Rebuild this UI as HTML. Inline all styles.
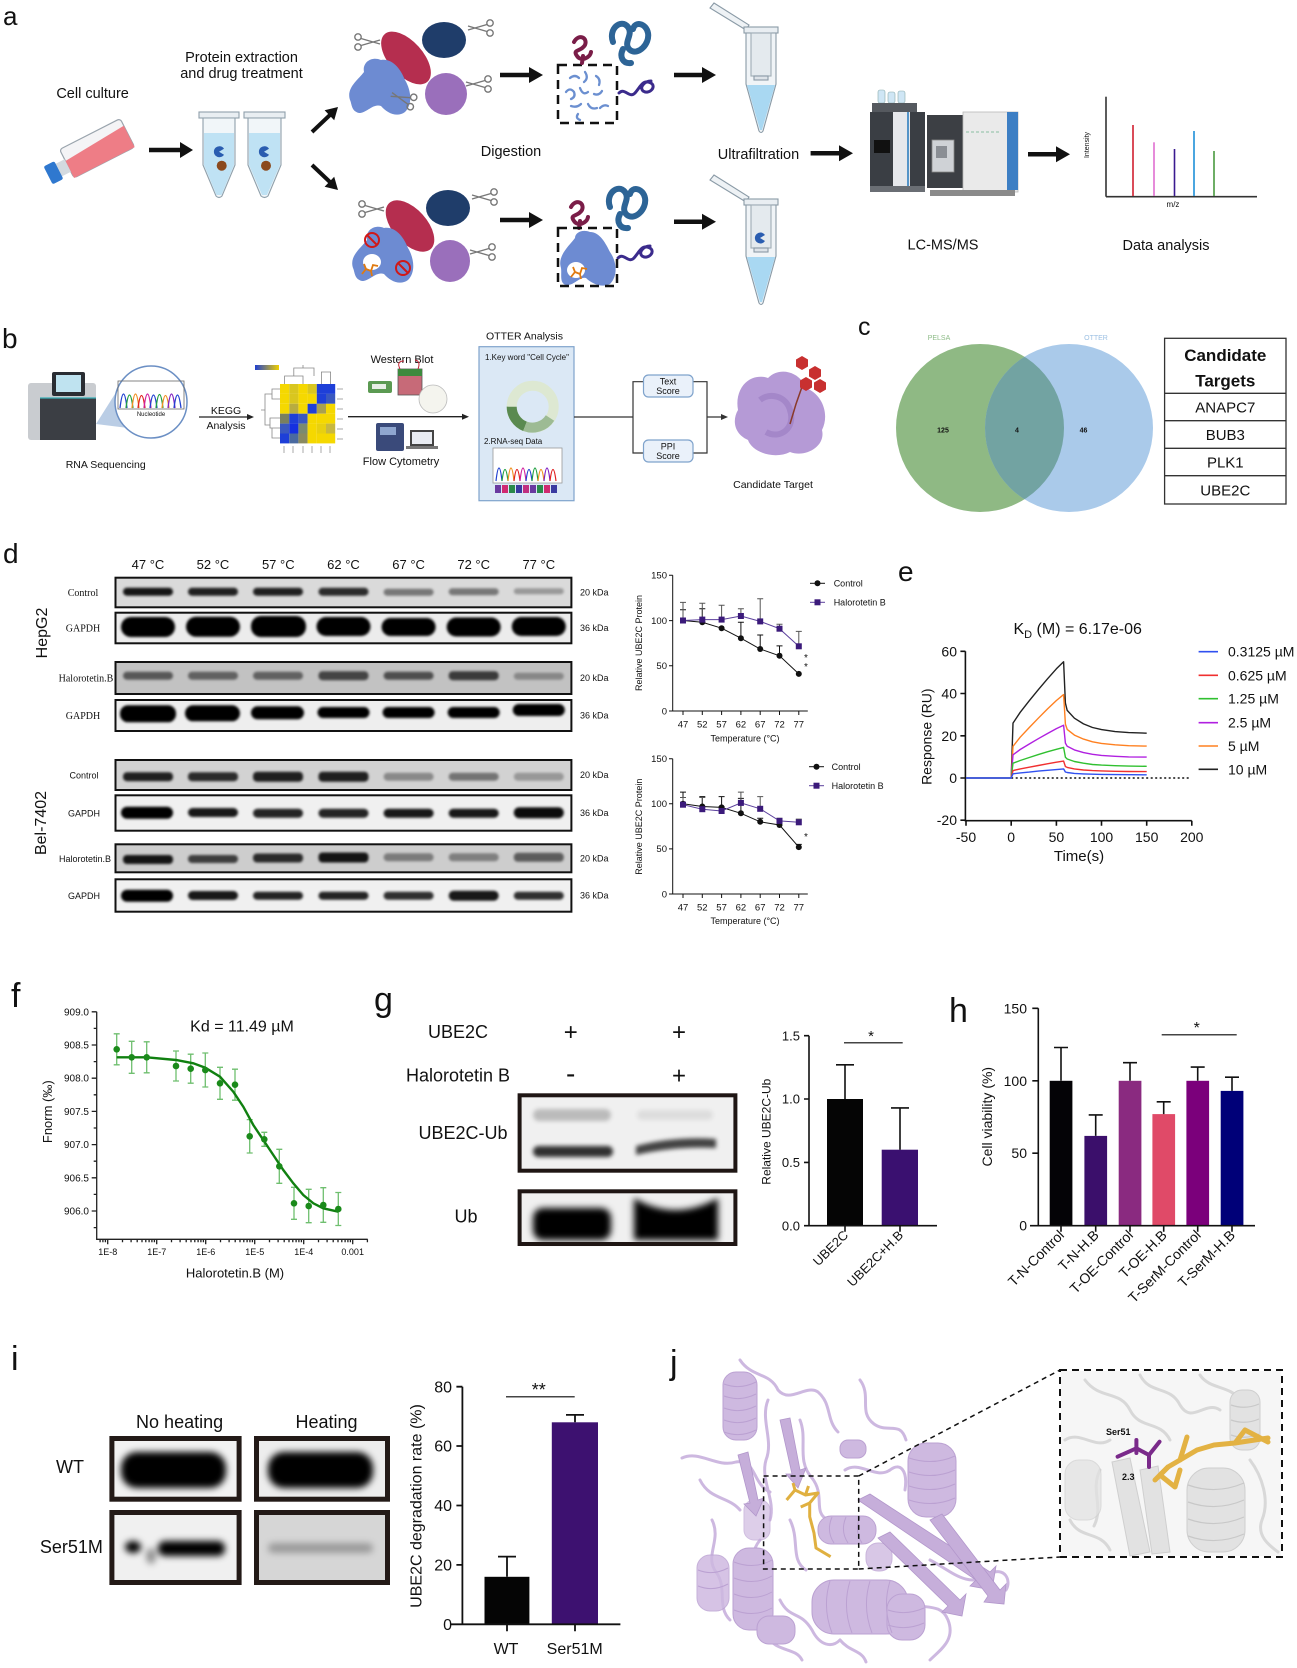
<!DOCTYPE html>
<html><head><meta charset="utf-8"><style>
html,body{margin:0;padding:0;background:#fff}
svg{display:block}
text{font-family:"Liberation Sans",Arial,sans-serif;fill:#111}
.s{font-family:"Liberation Serif","Times New Roman",serif}
</style></head><body>
<svg width="1297" height="1668" viewBox="0 0 1297 1668" xmlns="http://www.w3.org/2000/svg">
<defs>
<filter id="b1" x="-30%" y="-100%" width="160%" height="300%"><feGaussianBlur stdDeviation="1.3"/></filter>
<filter id="b2" x="-30%" y="-100%" width="160%" height="300%"><feGaussianBlur stdDeviation="2.2"/></filter>
<filter id="b4" x="-30%" y="-100%" width="160%" height="300%"><feGaussianBlur stdDeviation="3.5"/></filter>
<g id="sc" fill="none" stroke="#777" stroke-width="1.4"><circle cx="0" cy="-5" r="3.2"/><circle cx="0" cy="5" r="3.2"/><path d="M3,-3.5 L22,2 M3,3.5 L22,-2"/></g>
<clipPath id="gc"><circle cx="980" cy="428" r="84"/></clipPath>
<linearGradient id="hk"><stop offset="0" stop-color="#2040d0"/><stop offset="1" stop-color="#f0d000"/></linearGradient>
</defs>

<!-- ================= PANEL A ================= -->
<text x="3" y="25" font-size="26">a</text>
<text x="92.6" y="98" font-size="14.5" text-anchor="middle">Cell culture</text>
<text x="241.5" y="62" font-size="14.5" text-anchor="middle">Protein extraction</text>
<text x="241.5" y="78" font-size="14.5" text-anchor="middle">and drug treatment</text>
<text x="511" y="156" font-size="14.5" text-anchor="middle">Digestion</text>
<text x="758.5" y="159" font-size="14.5" text-anchor="middle">Ultrafiltration</text>
<text x="943" y="249.5" font-size="14.5" text-anchor="middle">LC-MS/MS</text>
<text x="1166" y="250" font-size="14.5" text-anchor="middle">Data analysis</text>

<!-- flask -->
<g transform="translate(94,151) rotate(-27)">
<rect x="-30" y="-17" width="68" height="32" rx="3" fill="#f4f4f6" stroke="#9aa4ad" stroke-width="1.2"/>
<path d="M-30,-4 L38,-9 L38,15 L-30,15 Z" fill="#ee7d86"/>
<rect x="-41" y="-6" width="11" height="14" fill="#d3dae0"/>
<rect x="-52" y="-9" width="12" height="20" rx="2" fill="#2f78cf"/>
</g>
<!-- arrows -->
<g fill="#111" stroke="#111">
<line x1="149" y1="150" x2="182" y2="150" stroke-width="4.5"/><polygon points="180,142 193,150 180,158" stroke="none"/>
<line x1="312" y1="132" x2="331" y2="114" stroke-width="4"/><polygon points="334.2,120.3 324.6,110.3 338,107" stroke="none"/>
<line x1="312" y1="165" x2="331" y2="183" stroke-width="4"/><polygon points="324.6,186.7 334.2,176.7 338,190" stroke="none"/>
<line x1="500" y1="75" x2="531" y2="75" stroke-width="4.5"/><polygon points="529,67 543,75 529,83" stroke="none"/>
<line x1="500" y1="220" x2="531" y2="220" stroke-width="4.5"/><polygon points="529,212 543,220 529,228" stroke="none"/>
<line x1="674" y1="75" x2="704" y2="75" stroke-width="4.5"/><polygon points="702,67 716,75 702,83" stroke="none"/>
<line x1="674" y1="221.7" x2="704" y2="221.7" stroke-width="4.5"/><polygon points="702,213.7 716,221.7 702,229.7" stroke="none"/>
<line x1="810.6" y1="153.3" x2="841" y2="153.3" stroke-width="4.5"/><polygon points="839,145.3 853,153.3 839,161.3" stroke="none"/>
<line x1="1028" y1="154.3" x2="1058" y2="154.3" stroke-width="4.5"/><polygon points="1056,146.3 1070,154.3 1056,162.3" stroke="none"/>
</g>
<!-- tubes -->
<g stroke="#8fa0ab" stroke-width="1.1">
<rect x="199" y="112" width="40" height="6" fill="#e9eef2"/>
<path d="M203,118 L203,165 L216,196 Q219,199 222,196 L235,165 L235,118 Z" fill="#f1f6f9"/>
<path d="M204,133 L234,133 L234,165 L221.5,195 L216.5,195 L204,165 Z" fill="#bfe2f4" stroke="none"/>
<rect x="244" y="112" width="41" height="6" fill="#e9eef2"/>
<path d="M248,118 L248,165 L261,196 Q264.5,199 268,196 L281,165 L281,118 Z" fill="#f1f6f9"/>
<path d="M249,133 L280,133 L280,165 L267,195 L262,195 L249,165 Z" fill="#bfe2f4" stroke="none"/>
</g>
<path d="M219,151.7 m5,-3 a5.5,5.5 0 1 0 0,6 l-5,-3 z" fill="#2a5db0"/>
<circle cx="221.7" cy="165.7" r="5" fill="#8b4a1e"/>
<path d="M264,151.7 m5,-3 a5.5,5.5 0 1 0 0,6 l-5,-3 z" fill="#2a5db0"/>
<circle cx="266" cy="165.7" r="5" fill="#8b4a1e"/>

<!-- proteins top -->
<ellipse cx="406" cy="58" rx="32" ry="17" transform="rotate(48 406 58)" fill="#b52e4f"/>
<ellipse cx="444" cy="40" rx="22" ry="18" fill="#1f3d6a"/>
<path d="M350,100 C346,88 358,80 364,72 C362,62 372,56 381,60 C393,58 401,70 405,80 C411,90 413,104 405,112 C397,118 387,113 381,106 C373,103 367,113 359,113 C351,111 352,104 350,100 Z" fill="#6d8bd2"/>
<ellipse cx="446" cy="94" rx="21" ry="21" fill="#9a6fbb"/>
<use href="#sc" transform="translate(358,42)"/>
<use href="#sc" transform="translate(490,28) scale(-1,1)"/>
<use href="#sc" transform="translate(488,84) scale(-1,1)"/>
<use href="#sc" transform="translate(412,102) scale(-1,1) rotate(-20)"/>
<!-- proteins bottom -->
<ellipse cx="410" cy="226" rx="31" ry="17" transform="rotate(48 410 226)" fill="#b52e4f"/>
<ellipse cx="448" cy="208" rx="22" ry="18" fill="#1f3d6a"/>
<path d="M353,268 C349,256 361,248 367,240 C365,230 375,224 384,228 C396,226 404,238 408,248 C414,258 416,272 408,280 C400,286 390,281 384,274 C376,271 370,281 362,281 C354,279 355,272 353,268 Z" fill="#6d8bd2"/>
<ellipse cx="372" cy="262" rx="9" ry="8" fill="#fff"/>
<ellipse cx="450" cy="261" rx="20" ry="21" fill="#9a6fbb"/>
<use href="#sc" transform="translate(362,209)"/>
<use href="#sc" transform="translate(494,197) scale(-1,1)"/>
<use href="#sc" transform="translate(492,252) scale(-1,1)"/>
<g fill="none" stroke="#d01818" stroke-width="2"><circle cx="372" cy="240" r="7"/><line x1="367" y1="235" x2="377" y2="245"/><circle cx="403" cy="268" r="7"/><line x1="398" y1="263" x2="408" y2="273"/></g>
<path d="M362,274 l4,-5 l5,2 l2,-6 l5,1 M366,269 l-2,-5 M371,271 l1,5" fill="none" stroke="#e07a10" stroke-width="1.8"/>

<!-- digestion -->
<rect x="558" y="65" width="59" height="58" fill="none" stroke="#111" stroke-width="2.5" stroke-dasharray="9 6"/>
<g fill="none" stroke="#6b8fd0" stroke-width="2.3" stroke-linecap="round">
<path d="M570,78 q5,-4 9,0"/><path d="M585,72 q4,6 -1,10"/><path d="M596,76 q5,3 3,9"/><path d="M566,92 q4,-5 8,0 q2,5 -3,7"/><path d="M580,88 q3,8 8,4"/><path d="M594,94 q5,2 8,-3"/><path d="M571,106 q6,2 10,-2"/><path d="M588,104 q3,6 9,4"/><path d="M578,114 q-3,4 2,6"/><path d="M600,108 q4,-4 8,-2"/>
</g>
<g fill="none" stroke-linecap="round" stroke-linejoin="round">
<path d="M574,42 c5,-9 14,-4 11,3 c-4,7 -13,4 -8,11 c4,6 13,2 14,-4 M583,56 l-1,7" stroke="#7a1d48" stroke-width="4"/>
<path d="M613,42 c-5,-13 8,-24 15,-15 c6,8 -6,16 2,23 c8,6 20,-6 18,-17 c-2,-10 -13,-12 -15,-4 M623,49 c-4,8 0,15 8,14" stroke="#2d6496" stroke-width="6"/>
<path d="M619,93 c6,-6 10,6 16,0 c6,-7 8,-14 16,-10 c6,4 -2,12 -8,8 c-4,-4 2,-10 8,-10" stroke="#3b2b8c" stroke-width="3"/>
<g transform="translate(-3,165)">
<path d="M574,42 c5,-9 14,-4 11,3 c-4,7 -13,4 -8,11 c4,6 13,2 14,-4 M583,56 l-1,7" stroke="#7a1d48" stroke-width="4"/>
<path d="M613,42 c-5,-13 8,-24 15,-15 c6,8 -6,16 2,23 c8,6 20,-6 18,-17 c-2,-10 -13,-12 -15,-4 M623,49 c-4,8 0,15 8,14" stroke="#2d6496" stroke-width="6"/>
<path d="M621,93 c6,-6 10,6 16,0 c6,-7 8,-14 16,-10 c6,4 -2,12 -8,8 c-4,-4 2,-10 8,-10" stroke="#3b2b8c" stroke-width="3"/>
</g>
</g>
<path d="M561,268 C557,256 569,246 575,238 C575,232 583,229 590,232 C600,232 606,244 610,252 C617,262 618,276 610,284 C602,288 592,284 586,278 C580,276 574,286 566,285 C559,283 562,274 561,268 Z" fill="#6d8bd2"/>
<ellipse cx="576" cy="270" rx="9" ry="8" fill="#fff"/>
<rect x="558" y="228" width="59" height="58" fill="none" stroke="#111" stroke-width="2.5" stroke-dasharray="9 6"/>
<path d="M571,277 l4,-5 l5,2 l2,-6 l5,1 M575,272 l-2,-5 M580,274 l1,5" fill="none" stroke="#e07a10" stroke-width="1.8"/>

<!-- filter tubes -->
<g id="ft" stroke="#8a9aa6" stroke-width="1.1">
<path d="M746,30 L710,8 L714,3 L749,25 Z" fill="#eef2f5"/>
<rect x="744" y="27" width="34" height="6" fill="#e9eef2"/>
<path d="M746,33 L746,84 L759,131 Q761,134 763,131 L776,84 L776,33 Z" fill="#f0f4f7"/>
<rect x="751" y="33" width="20" height="43" fill="#e4eaee" stroke="#a0adb6"/>
<rect x="754" y="76" width="14" height="4" fill="#dde3e8"/>
<path d="M747,85 L775,85 L762,130 L760,130 Z" fill="#a9d8f2" stroke="none"/>
</g>
<use href="#ft" transform="translate(0,172)"/>
<path d="M760,238 m5,-3 a5.5,5.5 0 1 0 0,6 l-5,-3 z" fill="#2a5db0"/>

<!-- LC-MS -->
<g>
<rect x="878" y="90" width="7" height="13" rx="2" fill="#cfe6f5" stroke="#8aa" stroke-width=".6"/>
<rect x="888" y="92" width="7" height="11" rx="2" fill="#cfe6f5" stroke="#8aa" stroke-width=".6"/>
<rect x="898" y="91" width="7" height="12" rx="2" fill="#cfe6f5" stroke="#8aa" stroke-width=".6"/>
<rect x="872" y="103" width="45" height="9" fill="#55595f"/>
<rect x="870" y="112" width="55" height="78" fill="#3a3e44"/>
<rect x="893" y="112" width="17" height="78" fill="#e6e8ec"/>
<line x1="908" y1="112" x2="908" y2="190" stroke="#2f7fc0" stroke-width="1.6"/>
<rect x="874" y="140" width="16" height="13" fill="#111"/>
<rect x="870" y="186" width="55" height="6" fill="#6a6e74"/>
<rect x="927" y="115" width="36" height="73" fill="#3c3f44"/>
<rect x="932" y="140" width="22" height="32" fill="#cfd2d6" stroke="#888" stroke-width=".8"/>
<rect x="936" y="146" width="11" height="12" fill="#8a8e94"/>
<rect x="963" y="112" width="55" height="80" fill="#eaeaea" stroke="#b9b9b9" stroke-width=".8"/>
<rect x="1007" y="112" width="11" height="78" fill="#3d7fc4"/>
<line x1="966" y1="132" x2="1000" y2="132" stroke="#6cb08a" stroke-width=".8" stroke-dasharray="3 2"/>
<rect x="930" y="190" width="85" height="6" fill="#8a8a8a"/>
</g>
<!-- spectrum -->
<g stroke-width="1.6">
<line x1="1106" y1="96.7" x2="1106" y2="196.7" stroke="#333"/>
<line x1="1106" y1="196.7" x2="1257" y2="196.7" stroke="#333"/>
<line x1="1133" y1="125" x2="1133" y2="196" stroke="#d02030"/>
<line x1="1154" y1="142.3" x2="1154" y2="196" stroke="#e070d0"/>
<line x1="1174.5" y1="149" x2="1174.5" y2="196" stroke="#3a1a90"/>
<line x1="1194" y1="131" x2="1194" y2="196" stroke="#1e90d8"/>
<line x1="1214" y1="151" x2="1214" y2="196" stroke="#4a9a40"/>
</g>
<text transform="translate(1089,145) rotate(-90)" font-size="7" text-anchor="middle">Intensity</text>
<text x="1173" y="207" font-size="8" text-anchor="middle">m/z</text>

<!-- ================= PANEL B ================= -->
<text x="2" y="348" font-size="28">b</text>
<rect x="28" y="383" width="68" height="57" rx="3" fill="#c9ccd0"/>
<rect x="40" y="398" width="56" height="42" fill="#3b3e44"/>
<rect x="52" y="372" width="33" height="24" rx="2" fill="#2a2d33"/>
<rect x="56" y="375" width="25" height="17" fill="#bfe3f0"/>
<line x1="40" y1="398" x2="96" y2="398" stroke="#3ab0b8" stroke-width="1.2"/>
<polygon points="96,424 120,386 128,428" fill="#a9c0de" opacity=".8"/>
<circle cx="151" cy="402" r="36" fill="#fff" stroke="#6b8fc4" stroke-width="1.5"/>
<rect x="118" y="381" width="66" height="28" fill="none" stroke="#666" stroke-width=".8"/>
<g fill="none" stroke-width="1.3">
<path d="M120,408 Q123.5,380 127,408" stroke="#2040d0"/><path d="M126,408 Q129.5,382 133,408" stroke="#20a040"/><path d="M132,408 Q135.5,380 139,408" stroke="#f09020"/><path d="M138,408 Q141.5,383 145,408" stroke="#e02020"/><path d="M144,408 Q147.5,380 151,408" stroke="#d020a0"/><path d="M150,408 Q153.5,382 157,408" stroke="#2040d0"/><path d="M156,408 Q159.5,381 163,408" stroke="#20a040"/><path d="M162,408 Q165.5,383 169,408" stroke="#f09020"/><path d="M168,408 Q171.5,380 175,408" stroke="#8020c0"/><path d="M174,408 Q177.5,382 181,408" stroke="#2040d0"/>
</g>
<text x="151" y="416" font-size="6" text-anchor="middle">Nucleotide</text>
<text x="105.7" y="468" font-size="10.5" text-anchor="middle">RNA Sequencing</text>
<text x="226" y="414" font-size="10.5" text-anchor="middle">KEGG</text>
<text x="226" y="429" font-size="10.5" text-anchor="middle">Analysis</text>
<line x1="199" y1="417" x2="249" y2="417" stroke="#222" stroke-width="1.3"/><polygon points="247,414 254,417 247,420" fill="#222"/>
<g>
<rect x="280" y="384" width="9.2" height="9.9" fill="#f5d800"/><rect x="289.2" y="384" width="9.2" height="9.9" fill="#d9c61f"/><rect x="298.4" y="384" width="9.2" height="9.9" fill="#f5d800"/><rect x="307.6" y="384" width="9.2" height="9.9" fill="#d9c61f"/><rect x="316.8" y="384" width="9.2" height="9.9" fill="#1e3fd8"/><rect x="326" y="384" width="9.2" height="9.9" fill="#1e3fd8"/>
<rect x="280" y="393.9" width="9.2" height="9.9" fill="#f5d800"/><rect x="289.2" y="393.9" width="9.2" height="9.9" fill="#d9c61f"/><rect x="298.4" y="393.9" width="9.2" height="9.9" fill="#f5d800"/><rect x="307.6" y="393.9" width="9.2" height="9.9" fill="#f5d800"/><rect x="316.8" y="393.9" width="9.2" height="9.9" fill="#1e3fd8"/><rect x="326" y="393.9" width="9.2" height="9.9" fill="#3a58c0"/>
<rect x="280" y="403.8" width="9.2" height="9.9" fill="#f5d800"/><rect x="289.2" y="403.8" width="9.2" height="9.9" fill="#b8ac40"/><rect x="298.4" y="403.8" width="9.2" height="9.9" fill="#f5d800"/><rect x="307.6" y="403.8" width="9.2" height="9.9" fill="#1e3fd8"/><rect x="316.8" y="403.8" width="9.2" height="9.9" fill="#a8a050"/><rect x="326" y="403.8" width="9.2" height="9.9" fill="#f5d800"/>
<rect x="280" y="413.7" width="9.2" height="9.9" fill="#7a8060"/><rect x="289.2" y="413.7" width="9.2" height="9.9" fill="#1e3fd8"/><rect x="298.4" y="413.7" width="9.2" height="9.9" fill="#3a58c0"/><rect x="307.6" y="413.7" width="9.2" height="9.9" fill="#f5d800"/><rect x="316.8" y="413.7" width="9.2" height="9.9" fill="#f5d800"/><rect x="326" y="413.7" width="9.2" height="9.9" fill="#f5d800"/>
<rect x="280" y="423.6" width="9.2" height="9.9" fill="#3a58c0"/><rect x="289.2" y="423.6" width="9.2" height="9.9" fill="#1530e0"/><rect x="298.4" y="423.6" width="9.2" height="9.9" fill="#7a8a70"/><rect x="307.6" y="423.6" width="9.2" height="9.9" fill="#f5d800"/><rect x="316.8" y="423.6" width="9.2" height="9.9" fill="#e8d010"/><rect x="326" y="423.6" width="9.2" height="9.9" fill="#c8b840"/>
<rect x="280" y="433.5" width="9.2" height="9.9" fill="#1e3fd8"/><rect x="289.2" y="433.5" width="9.2" height="9.9" fill="#4a6aa0"/><rect x="298.4" y="433.5" width="9.2" height="9.9" fill="#8a8a60"/><rect x="307.6" y="433.5" width="9.2" height="9.9" fill="#f5d800"/><rect x="316.8" y="433.5" width="9.2" height="9.9" fill="#f5d800"/><rect x="326" y="433.5" width="9.2" height="9.9" fill="#f5d800"/>
</g>
<g fill="none" stroke="#888" stroke-width=".8">
<path d="M284.6,384 V376 H303 V384 M293.8,376 V368 H314 V376 M321.4,384 V372 H330.6 V384 M314,376 V372 M303,368 V365"/>
<path d="M280,389 H272 V399 H280 M280,418 H270 V428 H280 M280,438 H272 V428 M272,394 H265 V425 H270 M265,410 H261"/>
</g>
<rect x="255" y="365" width="24" height="5" fill="url(#hk)"/>
<g stroke="#aaa" stroke-width="1"><path d="M337,389h6M337,399h6M337,409h6M337,419h6M337,429h6M337,439h6M284,446v7M293,446v7M303,446v7M312,446v7M321,446v7M330,446v7"/></g>
<text x="402" y="363" font-size="11" text-anchor="middle">Western Blot</text>
<rect x="368" y="381" width="24" height="12" rx="2" fill="#5b9a52"/>
<rect x="372" y="384" width="14" height="5" fill="#e8efe6"/>
<rect x="398" y="369" width="24" height="26" fill="#c76a78" stroke="#555" stroke-width=".8"/>
<rect x="398" y="369" width="24" height="7" fill="#3d8a3e"/>
<path d="M400,369 q-4,-8 4,-8 M418,369 q3,-8 -3,-9" fill="none" stroke="#c02030" stroke-width="1"/>
<circle cx="433" cy="399" r="14" fill="#f4f4ee" stroke="#bbb" stroke-width=".8"/>
<rect x="376" y="423" width="28" height="28" rx="2" fill="#3a4a7a"/>
<rect x="380" y="427" width="16" height="8" fill="#8fa6cf"/>
<rect x="410" y="430" width="24" height="16" fill="#444" /><rect x="412" y="432" width="20" height="12" fill="#e9ecf2"/><rect x="406" y="446" width="32" height="3" fill="#777"/>
<text x="401" y="465" font-size="11" text-anchor="middle">Flow Cytometry</text>
<line x1="348" y1="416.7" x2="464" y2="416.7" stroke="#222" stroke-width="1.3"/><polygon points="462,413.7 469,416.7 462,419.7" fill="#222"/>
<text x="524.5" y="339.5" font-size="10.5" text-anchor="middle">OTTER Analysis</text>
<rect x="479" y="346.7" width="95" height="154" fill="#dbe8f5" stroke="#7fa3cc" stroke-width="1.2"/>
<text x="485" y="360" font-size="8">1.Key word "Cell Cycle"</text>
<circle cx="532.7" cy="406.7" r="21" fill="none" stroke="#dde8d2" stroke-width="10"/>
<path d="M511.7,406.7 A21,21 0 0 0 525,426.3" fill="none" stroke="#5a8a50" stroke-width="10"/>
<path d="M525,426.3 A21,21 0 0 0 550,418" fill="none" stroke="#9dbb94" stroke-width="10"/>
<text x="484" y="444" font-size="8">2.RNA-seq Data</text>
<rect x="493" y="448" width="69" height="35" fill="#fff" stroke="#999" stroke-width=".8"/>
<g fill="none" stroke-width="1.2">
<path d="M496,481 Q499,455 502,481" stroke="#2040d0"/><path d="M502,481 Q505,458 508,481" stroke="#20a040"/><path d="M508,481 Q511,455 514,481" stroke="#f09020"/><path d="M514,481 Q517,458 520,481" stroke="#e02020"/><path d="M520,481 Q523,455 526,481" stroke="#d020a0"/><path d="M526,481 Q529,458 532,481" stroke="#2040d0"/><path d="M532,481 Q535,455 538,481" stroke="#20a040"/><path d="M538,481 Q541,458 544,481" stroke="#f09020"/><path d="M544,481 Q547,455 550,481" stroke="#8020c0"/><path d="M550,481 Q553,458 556,481" stroke="#e02020"/>
</g>
<g><rect x="495" y="485" width="6" height="8" fill="#6a3aa0"/><rect x="502" y="485" width="6" height="8" fill="#d02a70"/><rect x="509" y="485" width="6" height="8" fill="#2a8a4a"/><rect x="516" y="485" width="6" height="8" fill="#3a3aa0"/><rect x="523" y="485" width="6" height="8" fill="#c03080"/><rect x="530" y="485" width="6" height="8" fill="#6a3aa0"/><rect x="537" y="485" width="6" height="8" fill="#2a8a4a"/><rect x="544" y="485" width="6" height="8" fill="#d02a70"/><rect x="551" y="485" width="6" height="8" fill="#3a3aa0"/></g>
<g stroke="#333" stroke-width="1.2" fill="none">
<path d="M574,417 H633 M645,381.7 H633 V453 H645 M693,381.7 H707 V453 H693 M707,417 H723"/>
</g>
<polygon points="721,414 728,417 721,420" fill="#333"/>
<rect x="643.5" y="375" width="49.5" height="22" rx="5" fill="#eaf1fa" stroke="#7fa3cc" stroke-width="1.2"/>
<text x="668" y="384.5" font-size="9" text-anchor="middle">Text</text>
<text x="668" y="394" font-size="9" text-anchor="middle">Score</text>
<rect x="643.5" y="440" width="49.5" height="22" rx="5" fill="#eaf1fa" stroke="#7fa3cc" stroke-width="1.2"/>
<text x="668" y="449.5" font-size="9" text-anchor="middle">PPI</text>
<text x="668" y="459" font-size="9" text-anchor="middle">Score</text>
<path d="M738,410 C734,388 750,372 768,378 C780,366 800,372 806,388 C822,394 830,414 822,430 C826,446 806,458 790,452 C774,460 752,452 748,440 C734,434 732,420 738,410 Z" fill="#b59ad6"/>
<path d="M760,400 C770,392 786,396 790,410 C796,428 780,440 766,432" fill="none" stroke="#a487c9" stroke-width="6"/>
<path d="M803,384 L796,404 L790,424" fill="none" stroke="#8a3a2a" stroke-width="1.5"/>
<g fill="#c83030"><polygon points="802,356 808,359.5 808,366.5 802,370 796,366.5 796,359.5"/><polygon points="815,366 821,369.5 821,376.5 815,380 809,376.5 809,369.5"/><polygon points="806,377 812,380.5 812,387.5 806,391 800,387.5 800,380.5"/><polygon points="820,379 826,382.5 826,389.5 820,393 814,389.5 814,382.5"/></g>
<text x="773" y="488" font-size="10.5" text-anchor="middle">Candidate Target</text>

<!-- ================= PANEL C ================= -->
<text x="858" y="335" font-size="25">c</text>
<circle cx="980" cy="428" r="84" fill="#8fb984"/>
<circle cx="1069" cy="428" r="84" fill="#aacaea"/>
<circle cx="1069" cy="428" r="84" fill="#72a3a2" clip-path="url(#gc)"/>
<text x="939" y="340" font-size="7" text-anchor="middle" style="fill:#8dbb87">PELSA</text>
<text x="1096" y="340" font-size="7" text-anchor="middle" style="fill:#9cc0e3">OTTER</text>
<text x="943" y="432.5" font-size="7" font-weight="bold" text-anchor="middle">125</text>
<text x="1017" y="432.5" font-size="7" font-weight="bold" text-anchor="middle">4</text>
<text x="1083.5" y="432.5" font-size="7" font-weight="bold" text-anchor="middle">46</text>
<g fill="none" stroke="#333" stroke-width="1.3">
<rect x="1164.6" y="338.3" width="121.4" height="165.7"/>
<path d="M1164.6,393.3 H1286 M1164.6,420.7 H1286 M1164.6,448.3 H1286 M1164.6,475.7 H1286"/>
</g>
<text x="1225.3" y="361" font-size="17" font-weight="bold" text-anchor="middle">Candidate</text>
<text x="1225.3" y="386.5" font-size="17" font-weight="bold" text-anchor="middle">Targets</text>
<text x="1225.3" y="412.5" font-size="15" text-anchor="middle">ANAPC7</text>
<text x="1225.3" y="440" font-size="15" text-anchor="middle">BUB3</text>
<text x="1225.3" y="467.5" font-size="15" text-anchor="middle">PLK1</text>
<text x="1225.3" y="495.3" font-size="15" text-anchor="middle">UBE2C</text>

<!-- ================= PANEL D ================= -->
<text x="3" y="563" font-size="28">d</text>
<g font-size="13" text-anchor="middle">
<text x="148" y="569">47 °C</text><text x="213" y="569">52 °C</text><text x="278.3" y="569">57 °C</text><text x="343.5" y="569">62 °C</text><text x="408.6" y="569">67 °C</text><text x="473.7" y="569">72 °C</text><text x="538.8" y="569">77 °C</text>
</g>
<g stroke="#111" stroke-width="2">
<rect x="115.5" y="577.7" width="455.9" height="29.6" fill="#dadada"/>
<rect x="115.5" y="612.7" width="455.9" height="30.6" fill="#ececec"/>
<rect x="115.5" y="662" width="455.9" height="32" fill="#c2c2c2"/>
<rect x="115.5" y="700" width="455.9" height="31" fill="#eeeeee"/>
<rect x="115.5" y="760" width="455.9" height="30" fill="#d2d2d2"/>
<rect x="115.5" y="795.3" width="455.9" height="35.4" fill="#f0f0f0"/>
<rect x="115.5" y="844.3" width="455.9" height="28" fill="#cdcdcd"/>
<rect x="115.5" y="879.3" width="455.9" height="32.4" fill="#f0f0f0"/>
</g>
<g fill="#000" filter="url(#b1)">
<rect x="123" y="587.7" width="50" height="8" rx="4" fill-opacity=".9"/><rect x="188" y="587.7" width="50" height="8" rx="4" fill-opacity=".85"/><rect x="253" y="587.7" width="50" height="8" rx="4" fill-opacity=".85"/><rect x="318.5" y="587.7" width="50" height="8" rx="4" fill-opacity=".8"/><rect x="383.6" y="588.7" width="50" height="7" rx="3.5" fill-opacity=".45"/><rect x="448.7" y="588.2" width="50" height="7" rx="3.5" fill-opacity=".45"/><rect x="513.8" y="588.2" width="50" height="6" rx="3" fill-opacity=".3"/>
<rect x="121" y="617" width="54" height="20" rx="10"/><rect x="186" y="616.7" width="54" height="20" rx="10"/><rect x="251" y="616" width="55" height="21" rx="10"/><rect x="316.5" y="617" width="54" height="19" rx="9.5"/><rect x="381.6" y="618" width="54" height="18" rx="9"/><rect x="446.7" y="617.5" width="54" height="19" rx="9.5"/><rect x="511.8" y="617" width="54" height="19" rx="9.5"/>
<rect x="123" y="671.7" width="50" height="8" rx="4" fill-opacity=".55"/><rect x="188" y="671.7" width="50" height="8" rx="4" fill-opacity=".5"/><rect x="253" y="671.7" width="50" height="8" rx="4" fill-opacity=".5"/><rect x="318.5" y="671.2" width="50" height="9" rx="4" fill-opacity=".65"/><rect x="383.6" y="671.7" width="50" height="8" rx="4" fill-opacity=".6"/><rect x="448.7" y="671.2" width="50" height="9" rx="4" fill-opacity=".7"/><rect x="513.8" y="672.7" width="50" height="7" rx="3.5" fill-opacity=".3"/>
<rect x="120" y="705.3" width="56" height="17" rx="8"/><rect x="185" y="705.3" width="55" height="16" rx="8"/><rect x="251" y="706.3" width="53" height="13" rx="6.5"/><rect x="317.5" y="707" width="52" height="11" rx="5.5"/><rect x="382.6" y="707" width="52" height="11" rx="5.5"/><rect x="447.7" y="707" width="52" height="11" rx="5.5"/><rect x="512.8" y="704" width="52" height="12" rx="6"/>
<rect x="123" y="772.2" width="50" height="9" rx="4" fill-opacity=".85"/><rect x="188" y="772.2" width="50" height="9" rx="4" fill-opacity=".8"/><rect x="253" y="771.7" width="50" height="10" rx="4" fill-opacity=".85"/><rect x="318.5" y="771.7" width="50" height="10" rx="4" fill-opacity=".85"/><rect x="383.6" y="772.7" width="50" height="8" rx="4" fill-opacity=".35"/><rect x="448.7" y="772.7" width="50" height="8" rx="4" fill-opacity=".45"/><rect x="513.8" y="772.7" width="50" height="8" rx="4" fill-opacity=".28"/>
<rect x="121" y="806.7" width="52" height="12" rx="6"/><rect x="188" y="808" width="50" height="9" rx="4.5" fill-opacity=".9"/><rect x="253" y="808.7" width="50" height="9" rx="4.5" fill-opacity=".85"/><rect x="318.5" y="808.7" width="50" height="9" rx="4.5" fill-opacity=".85"/><rect x="383.6" y="808.7" width="50" height="9" rx="4.5" fill-opacity=".9"/><rect x="448.7" y="808.7" width="50" height="9" rx="4.5" fill-opacity=".9"/><rect x="513.8" y="807.2" width="50" height="11" rx="5.5" fill-opacity=".95"/>
<rect x="123" y="855" width="50" height="9" rx="4" fill-opacity=".9"/><rect x="188" y="855" width="50" height="8" rx="4" fill-opacity=".7"/><rect x="253" y="853.5" width="50" height="9" rx="4" fill-opacity=".8"/><rect x="318.5" y="852.5" width="50" height="10" rx="4" fill-opacity=".9"/><rect x="383.6" y="853.3" width="50" height="8" rx="4" fill-opacity=".4"/><rect x="448.7" y="853.3" width="50" height="8" rx="4" fill-opacity=".38"/><rect x="513.8" y="852.8" width="50" height="9" rx="4" fill-opacity=".55"/>
<rect x="121" y="889.7" width="52" height="12" rx="6"/><rect x="188" y="891" width="50" height="9" rx="4.5" fill-opacity=".9"/><rect x="253" y="891.7" width="50" height="8" rx="4" fill-opacity=".85"/><rect x="318.5" y="891.7" width="50" height="8" rx="4" fill-opacity=".85"/><rect x="383.6" y="891.7" width="50" height="8" rx="4" fill-opacity=".8"/><rect x="448.7" y="890.7" width="50" height="10" rx="5" fill-opacity=".9"/><rect x="513.8" y="891.7" width="50" height="8" rx="4" fill-opacity=".8"/>
</g>
<g font-size="10" text-anchor="middle">
<text class="s" x="83" y="596">Control</text>
<text class="s" x="83" y="631.5">GAPDH</text>
<text class="s" x="86" y="681.5">Halorotetin.B</text>
<text class="s" x="83" y="719">GAPDH</text>
</g>
<g font-size="9" text-anchor="middle">
<text x="84" y="778.5">Control</text>
<text x="84" y="816.5">GAPDH</text>
<text x="85" y="861.8">Halorotetin.B</text>
<text x="84" y="899">GAPDH</text>
</g>
<g font-size="9">
<text x="580" y="595.5">20 kDa</text><text x="580" y="631">36 kDa</text><text x="580" y="681">20 kDa</text><text x="580" y="718.5">36 kDa</text>
<text x="580" y="778">20 kDa</text><text x="580" y="816">36 kDa</text><text x="580" y="861.5">20 kDa</text><text x="580" y="898.5">36 kDa</text>
</g>
<text transform="translate(47,633) rotate(-90)" font-size="16" text-anchor="middle">HepG2</text>
<text transform="translate(46,823) rotate(-90)" font-size="16" text-anchor="middle">Bel-7402</text>

<!-- d chart 1 -->
<g stroke="#111" stroke-width="1" fill="none">
<path d="M672.7,575.3 V711 M670,711 H807.8"/>
<path d="M669,575.3 H672.7 M669,620.6 H672.7 M669,665.8 H672.7 M669,711 H672.7"/>
<path d="M683,711 v4 M702.3,711 v4 M721.6,711 v4 M740.9,711 v4 M760.2,711 v4 M779.5,711 v4 M798.8,711 v4"/>
</g>
<g font-size="9.5" text-anchor="end"><text x="667" y="578.6">150</text><text x="667" y="623.9">100</text><text x="667" y="669.1">50</text><text x="667" y="714.3">0</text></g>
<g font-size="9.5" text-anchor="middle"><text x="683" y="727.5">47</text><text x="702.3" y="727.5">52</text><text x="721.6" y="727.5">57</text><text x="740.9" y="727.5">62</text><text x="760.2" y="727.5">67</text><text x="779.5" y="727.5">72</text><text x="798.8" y="727.5">77</text></g>
<text x="745" y="741.5" font-size="9" text-anchor="middle">Temperature (°C)</text>
<text transform="translate(642,643) rotate(-90)" font-size="9" text-anchor="middle">Relative UBE2C Protein</text>
<g fill="none" stroke-width="1">
<path d="M683,620.5 V609.7 M680,609.7 h6 M702.3,622.3 V608.8 M699.3,608.8 h6 M740.9,638.2 V622.3 M737.9,622.3 h6 M760.2,649 V635 M757.2,635 h6 M779.5,655.8 V645.9 M776.5,645.9 h6" stroke="#111"/>
<path d="M683,620.5 V602.4 M680,602.4 h6 M702.3,619.6 V603.3 M699.3,603.3 h6 M721.6,619.6 V605.2 M718.6,605.2 h6 M740.9,616 V608.8 M737.9,608.8 h6 M760.2,621.4 V598.8 M757.2,598.8 h6 M779.5,628.7 V624.2 M776.5,624.2 h6 M798.8,646.3 V631.4 M795.8,631.4 h6" stroke="#555"/>
<polyline points="683,620.5 702.3,622.3 721.6,628.2 740.9,638.2 760.2,649 779.5,655.8 798.8,673.9" stroke="#111"/>
<polyline points="683,620.5 702.3,619.6 721.6,619.6 740.9,616 760.2,621.4 779.5,628.7 798.8,646.3" stroke="#5b3f9c"/>
</g>
<g fill="#111"><circle cx="683" cy="620.5" r="3"/><circle cx="702.3" cy="622.3" r="3"/><circle cx="721.6" cy="628.2" r="3"/><circle cx="740.9" cy="638.2" r="3"/><circle cx="760.2" cy="649" r="3"/><circle cx="779.5" cy="655.8" r="3"/><circle cx="798.8" cy="673.9" r="3"/></g>
<g fill="#3b1a7a"><rect x="680" y="617.5" width="6" height="6"/><rect x="699.3" y="616.6" width="6" height="6"/><rect x="718.6" y="616.6" width="6" height="6"/><rect x="737.9" y="613" width="6" height="6"/><rect x="757.2" y="618.4" width="6" height="6"/><rect x="776.5" y="625.7" width="6" height="6"/><rect x="795.8" y="643.3" width="6" height="6"/></g>
<text x="806" y="661" font-size="10" text-anchor="middle">*</text>
<text x="806" y="670" font-size="10" text-anchor="middle">*</text>
<line x1="810" y1="583.3" x2="825" y2="583.3" stroke="#111"/><circle cx="817.5" cy="583.3" r="3" fill="#111"/>
<text x="833.7" y="586.6" font-size="9">Control</text>
<line x1="810" y1="602.3" x2="825" y2="602.3" stroke="#5b3f9c"/><rect x="814.5" y="599.3" width="6" height="6" fill="#3b1a7a"/>
<text x="833.7" y="605.6" font-size="9">Halorotetin B</text>

<!-- d chart 2 -->
<g stroke="#111" stroke-width="1" fill="none">
<path d="M672.7,758.7 V894 M670,894 H807.8"/>
<path d="M669,758.7 H672.7 M669,803.8 H672.7 M669,848.9 H672.7 M669,894 H672.7"/>
<path d="M683,894 v4 M702.3,894 v4 M721.6,894 v4 M740.9,894 v4 M760.2,894 v4 M779.5,894 v4 M798.8,894 v4"/>
</g>
<g font-size="9.5" text-anchor="end"><text x="667" y="762">150</text><text x="667" y="807.1">100</text><text x="667" y="852.2">50</text><text x="667" y="897.3">0</text></g>
<g font-size="9.5" text-anchor="middle"><text x="683" y="910.5">47</text><text x="702.3" y="910.5">52</text><text x="721.6" y="910.5">57</text><text x="740.9" y="910.5">62</text><text x="760.2" y="910.5">67</text><text x="779.5" y="910.5">72</text><text x="798.8" y="910.5">77</text></g>
<text x="745" y="924" font-size="9" text-anchor="middle">Temperature (°C)</text>
<text transform="translate(642,826.7) rotate(-90)" font-size="9" text-anchor="middle">Relative UBE2C Protein</text>
<g fill="none" stroke-width="1">
<path d="M683,803.8 V792.1 M680,792.1 h6 M702.3,806.5 V796.6 M699.3,796.6 h6 M721.6,807.4 V796.6 M718.6,796.6 h6 M740.9,813.3 V798.4 M737.9,798.4 h6 M760.2,821.8 V818.2 M757.2,818.2 h6 M779.5,825 V821.8 M776.5,821.8 h6 M798.8,847.1 V844.4 M795.8,844.4 h6" stroke="#111"/>
<path d="M683,804.7 V797.5 M680,797.5 h6 M702.3,809.2 V797.5 M699.3,797.5 h6 M721.6,811 V806.5 M718.6,806.5 h6 M740.9,802.9 V792.1 M737.9,792.1 h6 M760.2,808.8 V796.6 M757.2,796.6 h6 M779.5,820.9 V818.2 M776.5,818.2 h6 M798.8,822.3 V819.1 M795.8,819.1 h6" stroke="#555"/>
<polyline points="683,803.8 702.3,806.5 721.6,807.4 740.9,813.3 760.2,821.8 779.5,825 798.8,847.1" stroke="#111"/>
<polyline points="683,804.7 702.3,809.2 721.6,811 740.9,802.9 760.2,808.8 779.5,820.9 798.8,822.3" stroke="#5b3f9c"/>
</g>
<g fill="#111"><circle cx="683" cy="803.8" r="3"/><circle cx="702.3" cy="806.5" r="3"/><circle cx="721.6" cy="807.4" r="3"/><circle cx="740.9" cy="813.3" r="3"/><circle cx="760.2" cy="821.8" r="3"/><circle cx="779.5" cy="825" r="3"/><circle cx="798.8" cy="847.1" r="3"/></g>
<g fill="#3b1a7a"><rect x="680" y="801.7" width="6" height="6"/><rect x="699.3" y="806.2" width="6" height="6"/><rect x="718.6" y="808" width="6" height="6"/><rect x="737.9" y="799.9" width="6" height="6"/><rect x="757.2" y="805.8" width="6" height="6"/><rect x="776.5" y="817.9" width="6" height="6"/><rect x="795.8" y="819.3" width="6" height="6"/></g>
<text x="806" y="840" font-size="10" text-anchor="middle">*</text>
<line x1="809" y1="766.7" x2="824" y2="766.7" stroke="#111"/><circle cx="816.5" cy="766.7" r="3" fill="#111"/>
<text x="831.6" y="770" font-size="9">Control</text>
<line x1="809" y1="785.7" x2="824" y2="785.7" stroke="#5b3f9c"/><rect x="813.5" y="782.7" width="6" height="6" fill="#3b1a7a"/>
<text x="831.6" y="789" font-size="9">Halorotetin B</text>

<!-- ================= PANEL E ================= -->
<text x="898" y="581" font-size="28">e</text>
<text x="1077.7" y="634" font-size="16" text-anchor="middle">K<tspan font-size="11" dy="4">D</tspan><tspan dy="-4"> (M) = 6.17e-06</tspan></text>
<g stroke="#111" stroke-width="1.6" fill="none">
<path d="M965.4,651.3 V820.7 H1191.8"/>
<path d="M960.4,651.3 h5 M960.4,693.5 h5 M960.4,735.8 h5 M960.4,778 h5 M960.4,820.2 h5"/>
<path d="M966,820.7 v5 M1011.2,820.7 v5 M1056.4,820.7 v5 M1101.5,820.7 v5 M1146.7,820.7 v5 M1191.8,820.7 v5"/>
</g>
<g font-size="14" text-anchor="end"><text x="957" y="656.3">60</text><text x="957" y="698.5">40</text><text x="957" y="740.8">20</text><text x="957" y="783">0</text><text x="957" y="825.2">-20</text></g>
<g font-size="14" text-anchor="middle"><text x="966" y="842">-50</text><text x="1011.2" y="842">0</text><text x="1056.4" y="842">50</text><text x="1101.5" y="842">100</text><text x="1146.7" y="842">150</text><text x="1191.8" y="842">200</text></g>
<text x="1079" y="861" font-size="15" text-anchor="middle">Time(s)</text>
<text transform="translate(931.5,736.7) rotate(-90)" font-size="14" text-anchor="middle">Response (RU)</text>
<line x1="1011.2" y1="778" x2="1191" y2="778" stroke="#111" stroke-width="1.5" stroke-dasharray="2 2.5"/>
<g fill="none" stroke-width="1.4" stroke-linejoin="round">
<polyline stroke="#222" points="966,778 1011.2,778 1013,723.1 1020.2,712.3 1029.3,700.7 1038.3,689.7 1047.3,679.1 1056.4,668.8 1063.6,661.8 1065.4,703.1 1067.2,710.4 1074.4,718.2 1083.5,723.9 1092.5,727.5 1101.5,729.6 1115.1,731.6 1128.6,732.6 1146.7,733.2"/>
<polyline stroke="#ff8020" points="1011.2,778 1013,746.3 1020.2,737.2 1029.3,727.5 1038.3,718.2 1047.3,709.1 1056.4,700.5 1063.6,694.6 1065.4,724.1 1067.2,729.4 1074.4,735.1 1083.5,739.1 1092.5,741.8 1101.5,743.4 1115.1,744.8 1128.6,745.7 1146.7,746.1"/>
<polyline stroke="#b020e0" points="1011.2,778 1013,754.8 1020.2,749.5 1029.3,744 1038.3,738.7 1047.3,733.6 1056.4,728.6 1063.6,725.2 1065.4,743.1 1067.2,746.3 1074.4,749.9 1083.5,752.6 1092.5,754.3 1101.5,755.4 1115.1,756.3 1128.6,756.9 1146.7,757.1"/>
<polyline stroke="#30c030" points="1011.2,778 1013,763.2 1020.2,760.5 1029.3,757.5 1038.3,754.6 1047.3,751.8 1056.4,749.3 1063.6,747.4 1065.4,757.3 1067.2,759 1074.4,761.5 1083.5,763.2 1092.5,764.5 1101.5,765.1 1115.1,765.7 1128.6,766.1 1146.7,766.3"/>
<polyline stroke="#f03030" points="1011.2,778 1013,770.6 1020.2,768.9 1029.3,767.2 1038.3,765.5 1047.3,763.8 1056.4,762.2 1063.6,761.1 1065.4,766.5 1067.2,767.4 1074.4,768.9 1083.5,770 1092.5,770.6 1101.5,770.9 1115.1,771.3 1128.6,771.5 1146.7,771.6"/>
<polyline stroke="#3050f0" points="966,778 1011.2,778 1013,773.8 1020.2,772.9 1029.3,772.1 1038.3,771.1 1047.3,770.3 1056.4,769.6 1063.6,768.9 1065.4,772 1067.2,772.5 1074.4,773.4 1083.5,773.9 1092.5,774.2 1101.5,774.4 1146.7,774.8"/>
</g>
<g stroke-width="1.6"><line x1="1198.6" y1="651.7" x2="1218" y2="651.7" stroke="#3050f0"/><line x1="1198.6" y1="675.3" x2="1218" y2="675.3" stroke="#f03030"/><line x1="1198.6" y1="698.7" x2="1218" y2="698.7" stroke="#30c030"/><line x1="1198.6" y1="722.7" x2="1218" y2="722.7" stroke="#b020e0"/><line x1="1198.6" y1="746" x2="1218" y2="746" stroke="#ff8020"/><line x1="1198.6" y1="769.3" x2="1218" y2="769.3" stroke="#222"/></g>
<g font-size="14"><text x="1228" y="656.7">0.3125 µM</text><text x="1228" y="680.3">0.625 µM</text><text x="1228" y="703.7">1.25 µM</text><text x="1228" y="727.7">2.5 µM</text><text x="1228" y="751">5 µM</text><text x="1228" y="774.3">10 µM</text></g>

<!-- ================= PANEL F ================= -->
<text x="11" y="1007" font-size="34">f</text>
<g stroke="#222" stroke-width="1.3" fill="none">
<path d="M96.7,1011.8 V1239.3 H367.7"/>
<path d="M91.7,1011.8h5M91.7,1045h5M91.7,1078.2h5M91.7,1111.4h5M91.7,1144.6h5M91.7,1177.8h5M91.7,1211h5"/>
<path d="M93.7,1028.4h3M93.7,1061.6h3M93.7,1094.8h3M93.7,1128h3M93.7,1161.2h3M93.7,1194.4h3M93.7,1227.6h3"/>
<path d="M107.7,1239.3v5M156.7,1239.3v5M205.7,1239.3v5M254.7,1239.3v5M303.7,1239.3v5M352.7,1239.3v5"/>
<path d="M100.1,1239.3v3M102.9,1239.3v3M105.4,1239.3v3M122.5,1239.3v3M131.1,1239.3v3M137.2,1239.3v3M142,1239.3v3M145.8,1239.3v3M149.1,1239.3v3M151.9,1239.3v3M154.4,1239.3v3M171.5,1239.3v3M180.1,1239.3v3M186.2,1239.3v3M191,1239.3v3M194.8,1239.3v3M198.1,1239.3v3M200.9,1239.3v3M203.4,1239.3v3M220.5,1239.3v3M229.1,1239.3v3M235.2,1239.3v3M240,1239.3v3M243.8,1239.3v3M247.1,1239.3v3M249.9,1239.3v3M252.4,1239.3v3M269.5,1239.3v3M278.1,1239.3v3M284.2,1239.3v3M289,1239.3v3M292.8,1239.3v3M296.1,1239.3v3M298.9,1239.3v3M301.4,1239.3v3M318.5,1239.3v3M327.1,1239.3v3M333.2,1239.3v3M338,1239.3v3M341.8,1239.3v3M345.1,1239.3v3M347.9,1239.3v3M350.4,1239.3v3M367.4,1239.3v3"/>
</g>
<g font-size="10" text-anchor="end"><text x="89" y="1015.3">909.0</text><text x="89" y="1048.5">908.5</text><text x="89" y="1081.7">908.0</text><text x="89" y="1114.9">907.5</text><text x="89" y="1148.1">907.0</text><text x="89" y="1181.3">906.5</text><text x="89" y="1214.5">906.0</text></g>
<g font-size="9" text-anchor="middle"><text x="107.7" y="1255">1E-8</text><text x="156.7" y="1255">1E-7</text><text x="205.7" y="1255">1E-6</text><text x="254.7" y="1255">1E-5</text><text x="303.7" y="1255">1E-4</text><text x="352.7" y="1255">0.001</text></g>
<text x="235" y="1277.5" font-size="13" text-anchor="middle">Halorotetin.B (M)</text>
<text transform="translate(52,1111.7) rotate(-90)" font-size="13" text-anchor="middle">Fnorm (‰)</text>
<text x="242" y="1031.5" font-size="16" text-anchor="middle">Kd = 11.49 µM</text>
<g stroke="#6fbf6f" stroke-width="1.3" fill="none">
<path d="M116.7,1033.8V1064.8M113.7,1033.8h6M113.7,1064.8h6"/>
<path d="M131.7,1041.3V1073.3M128.7,1041.3h6M128.7,1073.3h6"/>
<path d="M146.7,1041.8V1072.8M143.7,1041.8h6M143.7,1072.8h6"/>
<path d="M176,1051V1081M173,1051h6M173,1081h6"/>
<path d="M190.7,1054.2V1083.2M187.7,1054.2h6M187.7,1083.2h6"/>
<path d="M205.3,1053V1087M202.3,1053h6M202.3,1087h6"/>
<path d="M220,1067.3V1099.3M217,1067.3h6M217,1099.3h6"/>
<path d="M235,1069.2V1100.2M232,1069.2h6M232,1100.2h6"/>
<path d="M249.7,1119.6V1153M246.7,1119.6h6M246.7,1153h6"/>
<path d="M264.3,1132.3V1146.3M261.3,1132.3h6M261.3,1146.3h6"/>
<path d="M279.3,1149.3V1183.3M276.3,1149.3h6M276.3,1183.3h6"/>
<path d="M294,1187.3V1219.3M291,1187.3h6M291,1219.3h6"/>
<path d="M308.7,1189.3V1222.7M305.7,1189.3h6M305.7,1222.7h6"/>
<path d="M323.3,1187.7V1222.3M320.3,1187.7h6M320.3,1222.3h6"/>
<path d="M338.3,1192.5V1225.5M335.3,1192.5h6M335.3,1225.5h6"/>
</g>
<polyline fill="none" stroke="#108010" stroke-width="2.4" points="116.7,1057.3 146.7,1057.3 176,1060 193.3,1063.3 205.3,1067.7 220,1076.7 233.3,1091.7 243.3,1106.7 253.3,1125 263.3,1140 273.3,1155 283.3,1170 293.3,1183.3 303.3,1195 313.3,1203.3 323.3,1208.3 338.3,1211.7"/>
<g fill="#1a8a1a"><circle cx="116.7" cy="1049.3" r="3.3"/><circle cx="131.7" cy="1057.3" r="3.3"/><circle cx="146.7" cy="1057.3" r="3.3"/><circle cx="176" cy="1066" r="3.3"/><circle cx="190.7" cy="1068.7" r="3.3"/><circle cx="205.3" cy="1070" r="3.3"/><circle cx="220" cy="1083.3" r="3.3"/><circle cx="235" cy="1084.7" r="3.3"/><circle cx="249.7" cy="1136.3" r="3.3"/><circle cx="264.3" cy="1139.3" r="3.3"/><circle cx="279.3" cy="1166.3" r="3.3"/><circle cx="294" cy="1203.3" r="3.3"/><circle cx="308.7" cy="1206" r="3.3"/><circle cx="323.3" cy="1205" r="3.3"/><circle cx="338.3" cy="1209" r="3.3"/></g>

<!-- ================= PANEL G ================= -->
<text x="374" y="1011" font-size="34">g</text>
<text x="428" y="1038" font-size="18">UBE2C</text>
<text x="406" y="1081.3" font-size="18">Halorotetin B</text>
<g font-size="24" text-anchor="middle"><text x="570.7" y="1040.2">+</text><text x="679" y="1040.2">+</text><text x="679" y="1083.5">+</text></g>
<text x="570.7" y="1082.8" font-size="28" text-anchor="middle">-</text>
<text x="463" y="1139" font-size="18" text-anchor="middle">UBE2C-Ub</text>
<text x="466" y="1222.5" font-size="18" text-anchor="middle">Ub</text>
<rect x="519.6" y="1095.3" width="215.8" height="75.4" fill="#f0f0f0"/>
<g filter="url(#b2)">
<rect x="533" y="1109" width="78" height="12" rx="6" fill="#000" fill-opacity=".22"/>
<rect x="637" y="1110" width="76" height="10" rx="5" fill="#000" fill-opacity=".08"/>
<rect x="533" y="1146" width="80" height="11" rx="5.5" fill="#000" fill-opacity=".8"/>
<path d="M636,1146 Q675,1136 716,1139 L716,1148 Q675,1146 636,1155 Z" fill="#000" fill-opacity=".72"/>
</g>
<rect x="519.6" y="1095.3" width="215.8" height="75.4" fill="none" stroke="#1f1614" stroke-width="4"/>
<rect x="519.6" y="1191.3" width="215.8" height="52.7" fill="#f0f0f0"/>
<g filter="url(#b4)">
<rect x="533" y="1208" width="78" height="32" rx="10" fill="#000"/>
<path d="M634,1198 Q675,1222 718,1198 L718,1240 L634,1240 Z" fill="#000"/>
</g>
<rect x="519.6" y="1191.3" width="215.8" height="52.7" fill="none" stroke="#1f1614" stroke-width="4"/>
<rect x="827" y="1099" width="36" height="126.7" fill="#050505"/>
<rect x="881.7" y="1149.7" width="36.3" height="76" fill="#3a1070"/>
<g stroke="#111" stroke-width="1.6" fill="none">
<path d="M845,1099 V1064.8 M836,1064.8 H854 M900,1149.7 V1107.9 M891,1107.9 H909"/>
<path d="M809,1035.7 V1225.7 H937"/>
<path d="M804,1035.7h5M804,1099h5M804,1162.4h5M804,1225.7h5"/>
<path d="M845,1225.7v6M900,1225.7v6"/>
</g>
<g font-size="13" text-anchor="end"><text x="800" y="1040.4">1.5</text><text x="800" y="1103.7">1.0</text><text x="800" y="1167.1">0.5</text><text x="800" y="1230.4">0.0</text></g>
<line x1="844" y1="1042.7" x2="902.7" y2="1042.7" stroke="#444" stroke-width="1.5"/>
<text x="871" y="1041" font-size="15" text-anchor="middle">*</text>
<text transform="translate(770.5,1131.7) rotate(-90)" font-size="12" text-anchor="middle">Relative UBE2C-Ub</text>
<text transform="translate(849,1236) rotate(-45)" font-size="13" text-anchor="end">UBE2C</text>
<text transform="translate(904,1236) rotate(-45)" font-size="13" text-anchor="end">UBE2C+H.B</text>

<!-- ================= PANEL H ================= -->
<text x="949" y="1022" font-size="34">h</text>
<g>
<rect x="1049.7" y="1080.8" width="22.7" height="144.9" fill="#040306"/>
<rect x="1084.4" y="1135.9" width="22.7" height="89.8" fill="#3b0f6b"/>
<rect x="1118.7" y="1080.8" width="22.7" height="144.9" fill="#8a2a80"/>
<rect x="1152.4" y="1114.1" width="22.7" height="111.6" fill="#e04a68"/>
<rect x="1186.4" y="1080.8" width="22.7" height="144.9" fill="#7b007b"/>
<rect x="1220.7" y="1090.9" width="22.7" height="134.8" fill="#000078"/>
</g>
<g stroke="#111" stroke-width="1.6" fill="none">
<path d="M1061,1080.8V1047.5M1054,1047.5h14 M1095.7,1135.9V1114.9M1088.7,1114.9h14 M1130,1080.8V1062.7M1123,1062.7h14 M1163.7,1114.1V1101.8M1156.7,1101.8h14 M1197.7,1080.8V1067.1M1190.7,1067.1h14 M1232,1090.9V1077.2M1225,1077.2h14"/>
<path d="M1038.3,1008.3 V1225.7 M1030,1225.7 H1255"/>
<path d="M1032.3,1008.3h6M1032.3,1080.8h6M1032.3,1153.2h6"/>
<path d="M1061,1225.7v6M1095.7,1225.7v6M1130,1225.7v6M1163.7,1225.7v6M1197.7,1225.7v6M1232,1225.7v6"/>
</g>
<g font-size="14" text-anchor="end"><text x="1027" y="1013.3">150</text><text x="1027" y="1085.8">100</text><text x="1027" y="1158.2">50</text><text x="1027" y="1230.7">0</text></g>
<line x1="1161.7" y1="1034.7" x2="1236.7" y2="1034.7" stroke="#444" stroke-width="1.5"/>
<text x="1196.7" y="1033" font-size="16" text-anchor="middle">*</text>
<text transform="translate(992,1116.7) rotate(-90)" font-size="14" text-anchor="middle">Cell viability (%)</text>
<g font-size="14" text-anchor="end">
<text transform="translate(1065,1236) rotate(-45)">T-N-Control</text>
<text transform="translate(1099.7,1236) rotate(-45)">T-N-H.B</text>
<text transform="translate(1134,1236) rotate(-45)">T-OE-Control</text>
<text transform="translate(1167.7,1236) rotate(-45)">T-OE-H.B</text>
<text transform="translate(1201.7,1236) rotate(-45)">T-SerM-Control</text>
<text transform="translate(1236,1236) rotate(-45)">T-SerM-H.B</text>
</g>

<!-- ================= PANEL I ================= -->
<text x="11" y="1370" font-size="34">i</text>
<text x="179.6" y="1428" font-size="18" text-anchor="middle">No heating</text>
<text x="326.5" y="1428" font-size="18" text-anchor="middle">Heating</text>
<text x="70" y="1473" font-size="18" text-anchor="middle">WT</text>
<text x="71.4" y="1553" font-size="18" text-anchor="middle">Ser51M</text>
<rect x="111.9" y="1438.5" width="127.2" height="60.7" fill="#f2f2f2"/>
<rect x="256.5" y="1438.5" width="131" height="60.7" fill="#ededed"/>
<rect x="111.9" y="1512.5" width="127.2" height="70" fill="#f0f0f0"/>
<rect x="256.5" y="1512.5" width="131" height="70" fill="#d6d6d6"/>
<g filter="url(#b4)">
<rect x="121" y="1452" width="105" height="36" rx="16" fill="#000"/>
<rect x="268" y="1452" width="105" height="36" rx="16" fill="#000"/>
<rect x="158" y="1541" width="67" height="15" rx="7" fill="#000"/>
<ellipse cx="133" cy="1547" rx="8" ry="6" fill="#000"/>
<ellipse cx="151" cy="1556" rx="5" ry="8" fill="#000" fill-opacity=".4"/>
<rect x="268" y="1543" width="105" height="10" rx="5" fill="#000" fill-opacity=".28"/>
</g>
<g fill="none" stroke="#231a17" stroke-width="5">
<rect x="111.9" y="1438.5" width="127.2" height="60.7"/>
<rect x="256.5" y="1438.5" width="131" height="60.7"/>
<rect x="111.9" y="1512.5" width="127.2" height="70"/>
<rect x="256.5" y="1512.5" width="131" height="70"/>
</g>
<rect x="484.5" y="1576.8" width="44.9" height="47.5" fill="#050505"/>
<rect x="551.8" y="1422.3" width="46.2" height="202" fill="#3d1170"/>
<g stroke="#111" stroke-width="1.8" fill="none">
<path d="M507,1576.8V1556.6M498,1556.6h18 M575,1422.3V1414.9M566,1414.9h18"/>
<path d="M462.4,1386.7 V1624.3 M451,1624.3 H620.4"/>
<path d="M456.4,1386.7h6M456.4,1446h6M456.4,1505.5h6M456.4,1564.9h6"/>
<path d="M507,1624.3v7M575,1624.3v7"/>
</g>
<g font-size="16" text-anchor="end"><text x="452" y="1392.4">80</text><text x="452" y="1451.7">60</text><text x="452" y="1511.2">40</text><text x="452" y="1570.6">20</text><text x="452" y="1630">0</text></g>
<text x="506" y="1654" font-size="16" text-anchor="middle">WT</text>
<text x="574.7" y="1654" font-size="16" text-anchor="middle">Ser51M</text>
<line x1="506" y1="1396.7" x2="574.7" y2="1396.7" stroke="#444" stroke-width="1.5"/>
<text x="538.8" y="1396" font-size="18" text-anchor="middle">**</text>
<text transform="translate(421.5,1506) rotate(-90)" font-size="16" text-anchor="middle">UBE2C degradation rate (%)</text>

<!-- ================= PANEL J ================= -->
<text x="670" y="1374" font-size="34">j</text>
<g opacity=".95">
<g fill="none" stroke="#cbb5df" stroke-width="3" stroke-linecap="round">
<path d="M740,1360 C752,1378 770,1372 778,1390 C790,1404 806,1384 818,1392 C832,1404 826,1420 838,1432"/>
<path d="M682,1458 C700,1450 716,1468 736,1462 C756,1458 752,1484 770,1492"/>
<path d="M768,1400 C760,1420 774,1440 766,1460 C760,1480 776,1500 770,1520"/>
<path d="M800,1420 C808,1440 796,1460 812,1478 C826,1496 812,1512 828,1520"/>
<path d="M845,1470 C860,1460 876,1480 890,1470 C900,1462 908,1470 905,1490"/>
<path d="M760,1540 C744,1560 760,1580 746,1600"/>
<path d="M840,1640 C850,1652 862,1650 866,1662 M880,1630 C896,1640 900,1620 916,1636"/>
<path d="M930,1560 C950,1570 968,1590 990,1574 C1004,1566 1012,1580 1006,1590"/>
<path d="M780,1600 C790,1620 800,1610 812,1630 C820,1646 832,1648 840,1640"/>
<path d="M700,1480 C710,1500 728,1496 740,1510"/>
<path d="M712,1520 C722,1540 704,1556 716,1572 C728,1588 716,1606 730,1620"/>
<path d="M790,1520 C800,1540 790,1560 806,1570"/>
<path d="M860,1380 C872,1396 858,1412 874,1424 C888,1434 900,1420 906,1440"/>
<path d="M900,1600 C920,1612 940,1600 948,1620 C956,1640 940,1650 930,1660"/>
<path d="M770,1640 C780,1652 796,1648 802,1660"/>
</g>
<g fill="#ccb6df" stroke="#b89dd0" stroke-width="1">
<rect x="723" y="1372" width="34" height="68" rx="13"/>
<rect x="908" y="1443" width="48" height="74" rx="18"/>
<rect x="818" y="1516" width="58" height="28" rx="13"/>
<rect x="733" y="1548" width="40" height="82" rx="16"/>
<rect x="812" y="1580" width="96" height="54" rx="22"/>
<rect x="840" y="1440" width="26" height="18" rx="8"/>
<rect x="744" y="1500" width="26" height="40" rx="10" opacity=".7"/>
<rect x="757" y="1616" width="38" height="28" rx="12"/>
<rect x="887" y="1594" width="38" height="46" rx="15"/>
<rect x="866" y="1543" width="26" height="28" rx="12" opacity=".8"/>
<rect x="697" y="1555" width="32" height="56" rx="13" opacity=".85"/>
</g>
<g fill="none" stroke="#b89dd0" stroke-width="1">
<path d="M724,1384 q16,6 32,-2 M724,1396 q16,6 32,-2 M724,1408 q16,6 32,-2 M724,1420 q16,6 32,-2 M724,1432 q16,6 32,-2"/>
<path d="M909,1458 q24,8 46,-2 M909,1472 q24,8 46,-2 M909,1486 q24,8 46,-2 M909,1500 q24,8 46,-2"/>
<path d="M832,1517 q-6,14 2,26 M846,1517 q-6,14 2,26 M860,1517 q-6,14 2,26"/>
<path d="M734,1562 q20,8 38,-2 M734,1578 q20,8 38,-2 M734,1594 q20,8 38,-2 M734,1610 q20,8 38,-2"/>
<path d="M830,1581 q-8,26 2,52 M850,1581 q-8,26 2,52 M870,1581 q-8,26 2,52 M890,1581 q-8,26 2,52"/>
<path d="M888,1610 q18,6 36,-2 M888,1625 q18,6 36,-2"/>
<path d="M698,1570 q15,6 30,-2 M698,1586 q15,6 30,-2"/>
</g>
<g fill="#c4aad9" stroke="#ae92c9" stroke-width=".8">
<polygon points="858,1500 870,1494 990,1572 996,1566 992,1590 970,1586 976,1580"/>
<polygon points="878,1538 890,1532 960,1600 966,1594 962,1616 942,1612 948,1606"/>
<polygon points="930,1520 942,1514 1000,1590 1006,1584 1004,1604 984,1602 988,1596"/>
<polygon points="780,1420 790,1418 800,1470 806,1468 798,1488 786,1474 792,1474"/>
<polygon points="738,1455 748,1452 758,1500 764,1498 756,1516 744,1504 750,1503"/>
</g>
</g>
<polyline points="786.6,1500 795,1490 805.5,1495 818,1493 809.7,1503 809.7,1516.7 814,1533 816,1548 830.6,1556.7" fill="none" stroke="#e0b040" stroke-width="3" stroke-linejoin="round"/>
<path d="M795,1490 l-2,-7 M805.5,1495 l3,-9 M809.7,1503 l-9,4" fill="none" stroke="#e0b040" stroke-width="3"/>
<g fill="none" stroke="#111" stroke-width="1.5" stroke-dasharray="5 4">
<rect x="763.6" y="1476" width="95.1" height="93"/>
<line x1="858.7" y1="1476" x2="1060" y2="1370"/>
<line x1="858.7" y1="1569" x2="1060" y2="1557"/>
</g>
<rect x="1061" y="1371" width="220" height="185" fill="#f6f6f6"/>
<g fill="none" stroke="#d8d8d8" stroke-width="3" stroke-linecap="round">
<path d="M1085,1380 C1100,1400 1120,1390 1130,1410 C1140,1430 1160,1420 1170,1440"/>
<path d="M1140,1375 C1150,1395 1170,1385 1180,1405 C1192,1425 1205,1400 1220,1410"/>
<path d="M1065,1440 C1080,1430 1095,1450 1110,1440"/>
<path d="M1200,1375 C1210,1390 1230,1385 1240,1400"/>
<path d="M1070,1520 C1080,1540 1100,1530 1110,1550"/>
<path d="M1250,1460 C1262,1476 1270,1500 1262,1520 C1256,1536 1270,1546 1278,1552"/>
<path d="M1100,1470 C1090,1490 1104,1506 1094,1526"/>
</g>
<g fill="#e2e2e2" stroke="#cfcfcf" stroke-width="1">
<rect x="1187" y="1468" width="58" height="84" rx="22"/>
<polygon points="1112,1462 1130,1458 1150,1552 1130,1556"/>
<polygon points="1140,1470 1158,1466 1170,1552 1152,1554"/>
<rect x="1230" y="1390" width="30" height="60" rx="12"/>
<rect x="1065" y="1460" width="36" height="60" rx="14" opacity=".7"/>
</g>
<g fill="none" stroke="#c8c8c8" stroke-width="1.2">
<path d="M1188,1485 q28,10 56,-2 M1188,1502 q28,10 56,-2 M1188,1519 q28,10 56,-2 M1188,1536 q28,10 56,-2"/>
<path d="M1231,1405 q14,5 28,-1 M1231,1420 q14,5 28,-1 M1231,1435 q14,5 28,-1"/>
</g>
<g fill="none" stroke="#e3b243" stroke-width="5" stroke-linejoin="round" stroke-linecap="round">
<polyline points="1155,1480 1168,1467 1180,1460 1197,1450 1214,1445 1235,1443 1245,1430 1268,1442"/>
<polyline points="1180,1460 1187,1437"/>
<polyline points="1168,1467 1160,1475 1175,1487 1180,1470"/>
<polyline points="1235,1443 1268,1438"/>
</g>
<g fill="none" stroke="#7a2a8a" stroke-width="4" stroke-linecap="round" stroke-linejoin="round">
<polyline points="1117.6,1456.7 1136.4,1448.3 1149,1455 1159.5,1441.7"/>
<line x1="1136.4" y1="1440" x2="1136.4" y2="1453"/>
<line x1="1149" y1="1455" x2="1149" y2="1467"/>
</g>
<text x="1106" y="1435" font-size="9" font-weight="bold">Ser51</text>
<text x="1122" y="1480" font-size="9" font-weight="bold">2.3</text>
<rect x="1060" y="1370" width="222" height="187" fill="none" stroke="#111" stroke-width="2" stroke-dasharray="7 5"/>
</svg>
</body></html>
